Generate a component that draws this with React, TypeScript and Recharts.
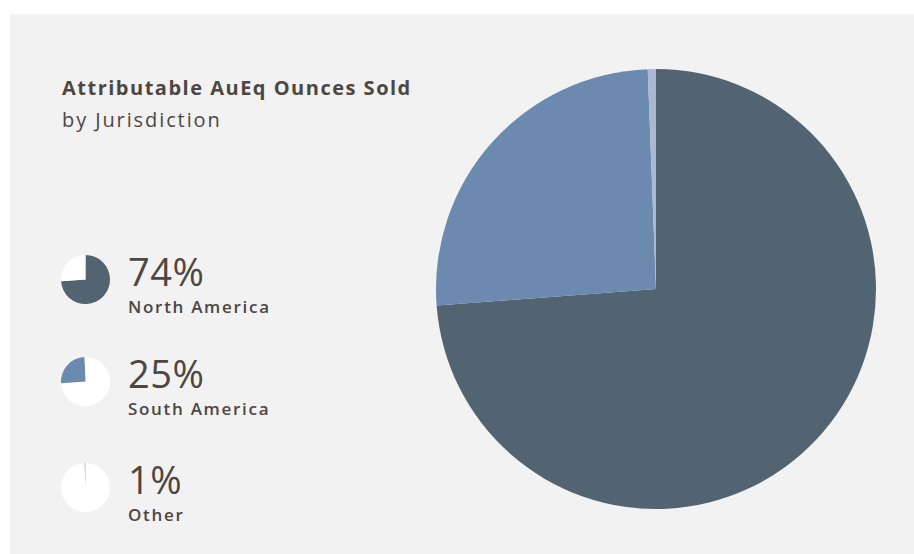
import { PieChart, Pie, Cell } from "recharts";

const regions: string[] = ["North America", "South America", "Other"];
// slice sizes (labels are rounded)
const shares: number[] = [73.8, 25.6, 0.6];
const shareLabels: string[] = ["74%", "25%", "1%"];

const sliceColors = ["#526371", "#6c89b0", "#a9b9d3"];
const textColor = "#4d4641";
const font = "'Open Sans', sans-serif";

const pieData = regions.map((name, i) => ({ name, value: shares[i] }));

// legend rows, offsets inside panel
const legendTops = [265.5, 367.5, 473.5];

const App = () => {
  return (
    <div
      style={{
        position: "absolute",
        left: 0,
        top: 0,
        width: 914,
        height: 554,
        background: "#ffffff",
        fontFamily: font,
        color: textColor,
      }}
    >
      <div
        style={{
          position: "absolute",
          left: 10,
          top: 14,
          width: 904,
          height: 540,
          background: "#f2f2f2",
        }}
      >
        <PieChart
          width={904}
          height={540}
          margin={{ top: 0, right: 0, bottom: 0, left: 0 }}
        >
          <Pie
            data={pieData}
            dataKey="value"
            nameKey="name"
            cx={646}
            cy={275}
            outerRadius={220}
            startAngle={90}
            endAngle={-270}
            stroke="none"
            isAnimationActive={false}
          >
            {pieData.map((d, i) => (
              <Cell key={d.name} fill={sliceColors[i]} />
            ))}
          </Pie>
          {regions.map((r, k) => (
            <Pie
              key={r}
              data={pieData}
              dataKey="value"
              cx={75.5}
              cy={legendTops[k]}
              outerRadius={24.5}
              startAngle={90}
              endAngle={-270}
              stroke="none"
              isAnimationActive={false}
            >
              {pieData.map((d, i) => (
                <Cell key={d.name} fill={i === k ? sliceColors[i] : "#ffffff"} />
              ))}
            </Pie>
          ))}
        </PieChart>

        <div
          style={{
            position: "absolute",
            left: 52,
            top: 62,
            fontSize: 20,
            fontWeight: 700,
            lineHeight: "24px",
            letterSpacing: 1.5,
            whiteSpace: "nowrap",
          }}
        >
          Attributable AuEq Ounces Sold
        </div>
        <div
          style={{
            position: "absolute",
            left: 52,
            top: 94,
            fontSize: 20,
            fontWeight: 400,
            lineHeight: "24px",
            letterSpacing: 1.9,
            whiteSpace: "nowrap",
          }}
        >
          by Jurisdiction
        </div>

        {regions.map((r, k) => (
          <div
            key={r}
            style={{ position: "absolute", left: 118, top: legendTops[k] - 28 }}
          >
            <div
              style={{
                fontSize: 38,
                lineHeight: "38px",
                fontWeight: 400,
                letterSpacing: 0.5,
              }}
            >
              {shareLabels[k]}
            </div>
            <div
              style={{
                marginTop: 7,
                fontSize: 17,
                lineHeight: "20px",
                fontWeight: 600,
                letterSpacing: 1.7,
                whiteSpace: "nowrap",
              }}
            >
              {r}
            </div>
          </div>
        ))}
      </div>
    </div>
  );
};

export default App;
